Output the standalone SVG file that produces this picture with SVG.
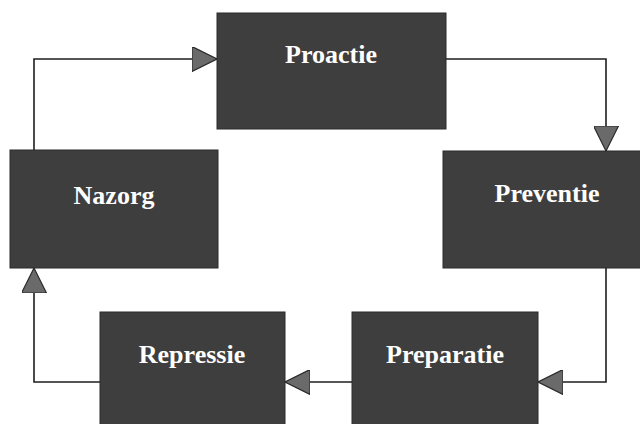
<svg xmlns="http://www.w3.org/2000/svg" width="640" height="424" viewBox="0 0 640 424">
  <style>
    .box { fill: #3e3e3e; stroke: #2a2a2a; stroke-width: 1; }
    .lbl { font-family: "Liberation Serif", "Times New Roman", serif; font-weight: bold; font-size: 26px; fill: #ffffff; text-anchor: middle; }
    .conn { fill: none; stroke: #1e1e1e; stroke-width: 1.6; }
  </style>
  <defs>
    <marker id="arr" viewBox="0 0 25 25" refX="25" refY="12.5" markerWidth="25" markerHeight="25" markerUnits="userSpaceOnUse" orient="auto">
      <path d="M0,0 L25,12.5 L0,25 Z" fill="#6a6a6a" stroke="#2a2a2a" stroke-width="1.2"/>
    </marker>
  </defs>
  <rect width="640" height="424" fill="#ffffff"/>
  <g id="connectors">
    <path class="conn" d="M34,150 V59 H217" marker-end="url(#arr)"/>
    <path class="conn" d="M446,59 H606 V151" marker-end="url(#arr)"/>
    <path class="conn" d="M606,268 V382 H538" marker-end="url(#arr)"/>
    <path class="conn" d="M352,382 H285" marker-end="url(#arr)"/>
    <path class="conn" d="M100,382 H34 V268" marker-end="url(#arr)"/>
  </g>
  <g id="proactie">
    <rect class="box" x="217" y="13" width="229" height="116"/>
    <text class="lbl" x="331" y="63">Proactie</text>
  </g>
  <g id="preventie">
    <rect class="box" x="443" y="151" width="210" height="117"/>
    <text class="lbl" x="547" y="202">Preventie</text>
  </g>
  <g id="preparatie">
    <rect class="box" x="352" y="312" width="186" height="120"/>
    <text class="lbl" x="445" y="363">Preparatie</text>
  </g>
  <g id="repressie">
    <rect class="box" x="100" y="312" width="185" height="120"/>
    <text class="lbl" x="192" y="363">Repressie</text>
  </g>
  <g id="nazorg">
    <rect class="box" x="10" y="150" width="208" height="118"/>
    <text class="lbl" x="114" y="204">Nazorg</text>
  </g>
</svg>
